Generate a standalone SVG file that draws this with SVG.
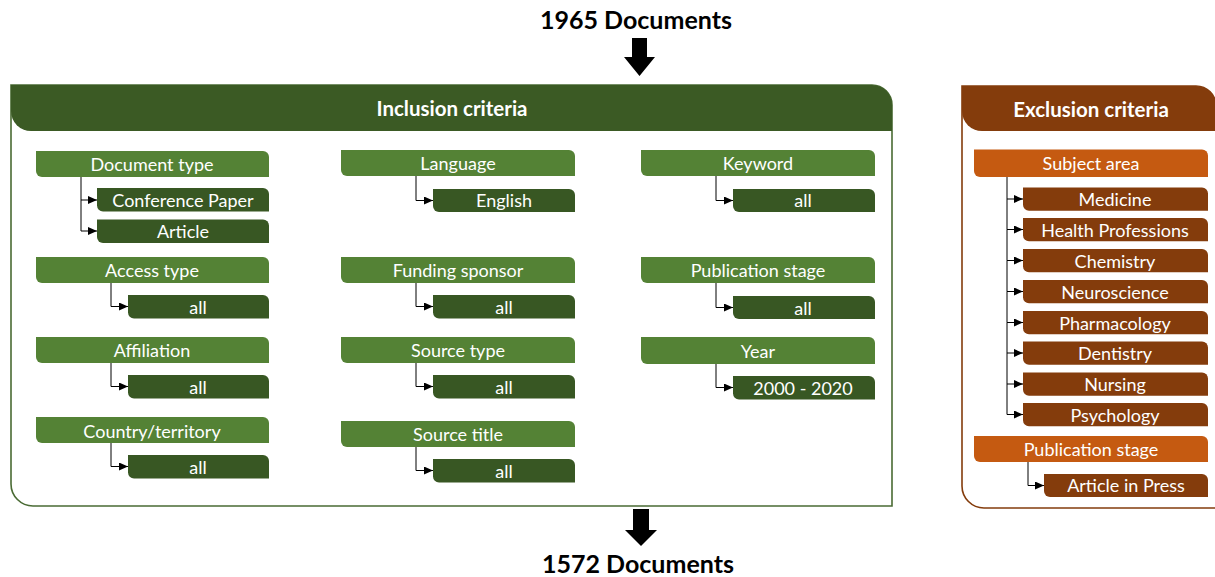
<svg xmlns="http://www.w3.org/2000/svg" width="1215" height="577" viewBox="0 0 1215 577">
  <style>
    text { font-family: Lato, "Open Sans", "Liberation Sans", sans-serif; text-anchor: middle; fill: #ffffff; }
    .lbl { font-size: 18px; }
    .ttl { font-size: 20.5px; font-weight: bold; }
    .doc { font-size: 25px; font-weight: bold; fill: #000000; }
    .cat { fill: #548235; }
    .val { fill: #385723; }
    .xcat { fill: #C55A11; }
    .xval { fill: #843C0C; }
    .link { fill: none; stroke: #000000; stroke-width: 1; marker-end: url(#tip); }
    .flow { fill: #000000; }
  </style>
  <defs>
    <marker id="tip" markerUnits="userSpaceOnUse" markerWidth="9" markerHeight="8" refX="9" refY="4" orient="auto">
      <path d="M0,0 L9,4 L0,8 Z" fill="#000000"/>
    </marker>
  </defs>

  <!-- document counts and flow arrows -->
  <g id="count-in">
    <text class="doc" x="636" y="29">1965 Documents</text>
    <path class="flow" d="M632,38 H647 V57 H655 L639.5,76 L624,57 H632 Z"/>
  </g>
  <g id="count-out">
    <path class="flow" d="M633,509 H649 V530 H657 L641,546 L625,530 H633 Z"/>
    <text class="doc" x="638" y="573">1572 Documents</text>
  </g>

  <!-- inclusion frame -->
  <g id="inclusion">
    <path d="M11,85 H872 A20,20 0 0 1 892,105 V506 H33 A22,22 0 0 1 11,484 Z" fill="#ffffff" stroke="#4A6B34" stroke-width="1.6"/>
    <path d="M11,85 H872 A20,20 0 0 1 892,105 V131 H31 A20,20 0 0 1 11,111 Z" fill="#3B5A24"/>
    <text class="ttl" x="452" y="116">Inclusion criteria</text>
  </g>

  <!-- exclusion frame -->
  <g id="exclusion">
    <path d="M962,86 H1196 A20,20 0 0 1 1216,106 V508 H984 A22,22 0 0 1 962,486 Z" fill="#ffffff" stroke="#843C0C" stroke-width="1.6"/>
    <path d="M962,86 H1196 A20,20 0 0 1 1216,106 V131 H982 A20,20 0 0 1 962,111 Z" fill="#843C0C"/>
    <text class="ttl" x="1091" y="117">Exclusion criteria</text>
  </g>

  <!-- connectors -->
  <g id="connectors">
    <path class="link" d="M81,177 V200 H97"/>
    <path class="link" d="M81,200 V231 H97"/>
    <path class="link" d="M111,283 V306.5 H128"/>
    <path class="link" d="M111,363 V386.5 H128"/>
    <path class="link" d="M111,443 V466.5 H128"/>
    <path class="link" d="M416,176 V200.5 H433"/>
    <path class="link" d="M416,283 V306.5 H433"/>
    <path class="link" d="M416,363 V386.5 H433"/>
    <path class="link" d="M416,447 V470.5 H433"/>
    <path class="link" d="M716,176 V200.5 H733"/>
    <path class="link" d="M716,283 V307.5 H733"/>
    <path class="link" d="M716,363 V387.5 H733"/>
    <path class="link" d="M1007,177 V199 H1023"/>
    <path class="link" d="M1007,199 V229.5 H1023"/>
    <path class="link" d="M1007,229.5 V260.5 H1023"/>
    <path class="link" d="M1007,260.5 V291.5 H1023"/>
    <path class="link" d="M1007,291.5 V322.5 H1023"/>
    <path class="link" d="M1007,322.5 V353 H1023"/>
    <path class="link" d="M1007,353 V384 H1023"/>
    <path class="link" d="M1007,384 V414.5 H1023"/>
    <path class="link" d="M1028,462 V485.5 H1044"/>
  </g>

  <!-- column 1 -->
  <g id="document-type">
    <path class="cat" d="M36,151 H263 A6,6 0 0 1 269,157 V177 H42 A6,6 0 0 1 36,171 Z"/>
    <text class="lbl" x="152" y="171">Document type</text>
  </g>
  <g id="conference-paper">
    <path class="val" d="M97,188 H263 A6,6 0 0 1 269,194 V211.5 H103 A6,6 0 0 1 97,205.5 Z"/>
    <text class="lbl" x="183" y="206.5">Conference Paper</text>
  </g>
  <g id="article">
    <path class="val" d="M97,219.5 H263 A6,6 0 0 1 269,225.5 V243 H103 A6,6 0 0 1 97,237 Z"/>
    <text class="lbl" x="183" y="237.5">Article</text>
  </g>
  <g id="access-type">
    <path class="cat" d="M36,257 H263 A6,6 0 0 1 269,263 V283 H42 A6,6 0 0 1 36,277 Z"/>
    <text class="lbl" x="152" y="277">Access type</text>
  </g>
  <g id="access-all">
    <path class="val" d="M128,295 H263 A6,6 0 0 1 269,301 V318.5 H134 A6,6 0 0 1 128,312.5 Z"/>
    <text class="lbl" x="198" y="313.5">all</text>
  </g>
  <g id="affiliation">
    <path class="cat" d="M36,337 H263 A6,6 0 0 1 269,343 V363 H42 A6,6 0 0 1 36,357 Z"/>
    <text class="lbl" x="152" y="357">Affiliation</text>
  </g>
  <g id="affiliation-all">
    <path class="val" d="M128,375 H263 A6,6 0 0 1 269,381 V398.5 H134 A6,6 0 0 1 128,392.5 Z"/>
    <text class="lbl" x="198" y="393.5">all</text>
  </g>
  <g id="country">
    <path class="cat" d="M36,417 H263 A6,6 0 0 1 269,423 V443 H42 A6,6 0 0 1 36,437 Z"/>
    <text class="lbl" x="152" y="437.5">Country/territory</text>
  </g>
  <g id="country-all">
    <path class="val" d="M128,455 H263 A6,6 0 0 1 269,461 V478.5 H134 A6,6 0 0 1 128,472.5 Z"/>
    <text class="lbl" x="198" y="473.5">all</text>
  </g>

  <!-- column 2 -->
  <g id="language">
    <path class="cat" d="M341,150 H569 A6,6 0 0 1 575,156 V176 H347 A6,6 0 0 1 341,170 Z"/>
    <text class="lbl" x="458" y="170">Language</text>
  </g>
  <g id="english">
    <path class="val" d="M433,189 H569 A6,6 0 0 1 575,195 V212 H439 A6,6 0 0 1 433,206 Z"/>
    <text class="lbl" x="504" y="206.5">English</text>
  </g>
  <g id="funding-sponsor">
    <path class="cat" d="M341,257 H569 A6,6 0 0 1 575,263 V283 H347 A6,6 0 0 1 341,277 Z"/>
    <text class="lbl" x="458" y="277">Funding sponsor</text>
  </g>
  <g id="funding-all">
    <path class="val" d="M433,295 H569 A6,6 0 0 1 575,301 V318.5 H439 A6,6 0 0 1 433,312.5 Z"/>
    <text class="lbl" x="504" y="313.5">all</text>
  </g>
  <g id="source-type">
    <path class="cat" d="M341,337 H569 A6,6 0 0 1 575,343 V363 H347 A6,6 0 0 1 341,357 Z"/>
    <text class="lbl" x="458" y="357">Source type</text>
  </g>
  <g id="source-type-all">
    <path class="val" d="M433,375 H569 A6,6 0 0 1 575,381 V398.5 H439 A6,6 0 0 1 433,392.5 Z"/>
    <text class="lbl" x="504" y="393.5">all</text>
  </g>
  <g id="source-title">
    <path class="cat" d="M341,421 H569 A6,6 0 0 1 575,427 V447 H347 A6,6 0 0 1 341,441 Z"/>
    <text class="lbl" x="458" y="441">Source title</text>
  </g>
  <g id="source-title-all">
    <path class="val" d="M433,459 H569 A6,6 0 0 1 575,465 V482.5 H439 A6,6 0 0 1 433,476.5 Z"/>
    <text class="lbl" x="504" y="477.5">all</text>
  </g>

  <!-- column 3 -->
  <g id="keyword">
    <path class="cat" d="M641,150 H869 A6,6 0 0 1 875,156 V176 H647 A6,6 0 0 1 641,170 Z"/>
    <text class="lbl" x="758" y="169.5">Keyword</text>
  </g>
  <g id="keyword-all">
    <path class="val" d="M733,189 H869 A6,6 0 0 1 875,195 V212 H739 A6,6 0 0 1 733,206 Z"/>
    <text class="lbl" x="803" y="206.5">all</text>
  </g>
  <g id="publication-stage">
    <path class="cat" d="M641,257 H869 A6,6 0 0 1 875,263 V283 H647 A6,6 0 0 1 641,277 Z"/>
    <text class="lbl" x="758" y="276.5">Publication stage</text>
  </g>
  <g id="publication-all">
    <path class="val" d="M733,296 H869 A6,6 0 0 1 875,302 V319 H739 A6,6 0 0 1 733,313 Z"/>
    <text class="lbl" x="803" y="314.5">all</text>
  </g>
  <g id="year">
    <path class="cat" d="M641,337 H869 A6,6 0 0 1 875,343 V364 H647 A6,6 0 0 1 641,358 Z"/>
    <text class="lbl" x="758" y="357.5">Year</text>
  </g>
  <g id="year-range">
    <path class="val" d="M733,376 H869 A6,6 0 0 1 875,382 V399.5 H739 A6,6 0 0 1 733,393.5 Z"/>
    <text class="lbl" x="803" y="394.5">2000 - 2020</text>
  </g>

  <!-- exclusion items -->
  <g id="subject-area">
    <path class="xcat" d="M974,149.5 H1202 A6,6 0 0 1 1208,155.5 V177 H980 A6,6 0 0 1 974,171 Z"/>
    <text class="lbl" x="1091" y="169.5">Subject area</text>
  </g>
  <g id="medicine">
    <path class="xval" d="M1023,187.5 H1202 A6,6 0 0 1 1208,193.5 V210.8 H1029 A6,6 0 0 1 1023,204.8 Z"/>
    <text class="lbl" x="1115" y="205.5">Medicine</text>
  </g>
  <g id="health-professions">
    <path class="xval" d="M1023,218 H1202 A6,6 0 0 1 1208,224 V241.3 H1029 A6,6 0 0 1 1023,235.3 Z"/>
    <text class="lbl" x="1115" y="236.5">Health Professions</text>
  </g>
  <g id="chemistry">
    <path class="xval" d="M1023,249 H1202 A6,6 0 0 1 1208,255 V272.3 H1029 A6,6 0 0 1 1023,266.3 Z"/>
    <text class="lbl" x="1115" y="267.5">Chemistry</text>
  </g>
  <g id="neuroscience">
    <path class="xval" d="M1023,280 H1202 A6,6 0 0 1 1208,286 V303.3 H1029 A6,6 0 0 1 1023,297.3 Z"/>
    <text class="lbl" x="1115" y="298.5">Neuroscience</text>
  </g>
  <g id="pharmacology">
    <path class="xval" d="M1023,311 H1202 A6,6 0 0 1 1208,317 V334.3 H1029 A6,6 0 0 1 1023,328.3 Z"/>
    <text class="lbl" x="1115" y="329.5">Pharmacology</text>
  </g>
  <g id="dentistry">
    <path class="xval" d="M1023,341.5 H1202 A6,6 0 0 1 1208,347.5 V364.8 H1029 A6,6 0 0 1 1023,358.8 Z"/>
    <text class="lbl" x="1115" y="360">Dentistry</text>
  </g>
  <g id="nursing">
    <path class="xval" d="M1023,372.5 H1202 A6,6 0 0 1 1208,378.5 V395.8 H1029 A6,6 0 0 1 1023,389.8 Z"/>
    <text class="lbl" x="1115" y="391">Nursing</text>
  </g>
  <g id="psychology">
    <path class="xval" d="M1023,403 H1202 A6,6 0 0 1 1208,409 V426.3 H1029 A6,6 0 0 1 1023,420.3 Z"/>
    <text class="lbl" x="1115" y="421.5">Psychology</text>
  </g>
  <g id="exclusion-stage">
    <path class="xcat" d="M974,436 H1202 A6,6 0 0 1 1208,442 V462 H980 A6,6 0 0 1 974,456 Z"/>
    <text class="lbl" x="1091" y="456">Publication stage</text>
  </g>
  <g id="article-in-press">
    <path class="xval" d="M1044,474 H1202 A6,6 0 0 1 1208,480 V497 H1050 A6,6 0 0 1 1044,491 Z"/>
    <text class="lbl" x="1126" y="491.5">Article in Press</text>
  </g>
</svg>
